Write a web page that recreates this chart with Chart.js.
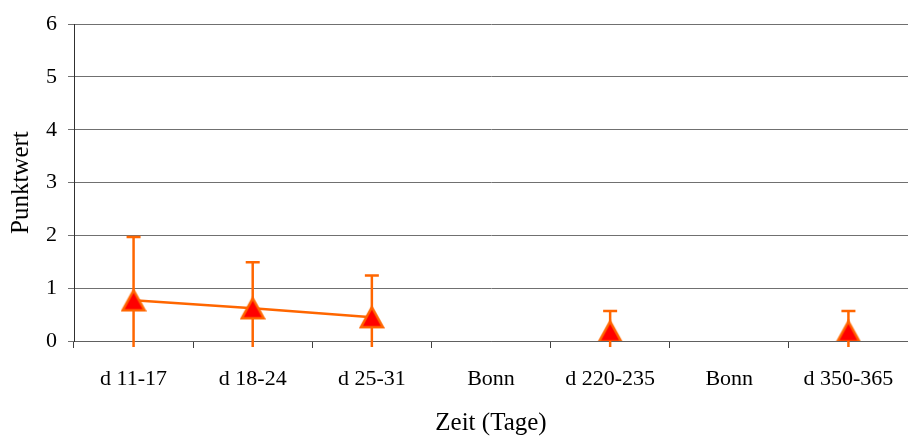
<!DOCTYPE html>
<html>
<head>
<meta charset="utf-8">
<script src="https://cdn.jsdelivr.net/npm/chart.js@4/dist/chart.umd.min.js"></script>
<style>
  html, body { margin: 0; padding: 0; background: #fff; }
  #wrap { width: 908px; height: 436px; }
</style>
</head>
<body>
<div id="wrap"><canvas id="chart"></canvas></div>
<script>
// data
var kategorien = ["d 11-17", "d 18-24", "d 25-31", "Bonn", "d 220-235", "Bonn", "d 350-365"];
var mittel     = [0.77, 0.62, 0.45, null, 0.18, null, 0.18];
var fehler     = [1.20, 0.87, 0.79, null, 0.39, null, 0.39];
var yTicks     = [0, 1, 2, 3, 4, 5, 6];

var orange = "#FF6600";
var schrift = "'Liberation Serif', 'Times New Roman', serif";

// triangle marker, centred on its bounding box like the original
var dreieck = document.createElement("canvas");
dreieck.width = 26; dreieck.height = 24;
(function() {
  var c = dreieck.getContext("2d");
  c.beginPath();
  c.moveTo(13, 2);
  c.lineTo(24, 22);
  c.lineTo(2, 22);
  c.closePath();
  c.fillStyle = "#FF0000";
  c.fill();
  c.lineWidth = 2.5;
  c.strokeStyle = orange;
  c.stroke();
})();

// error bars, drawn under the markers
var fehlerBalken = {
  id: "fehlerBalken",
  beforeDatasetsDraw: function(chart) {
    var ctx = chart.ctx;
    var xs = chart.scales.x, ys = chart.scales.y;
    var area = chart.chartArea;
    ctx.save();
    ctx.beginPath();
    ctx.rect(area.left, area.top - 5, area.right - area.left, area.bottom - area.top + 11);
    ctx.clip();
    ctx.strokeStyle = orange;
    ctx.lineWidth = 2.5;
    for (var i = 0; i < mittel.length; i++) {
      if (mittel[i] === null) continue;
      var x = xs.getPixelForValue(i);
      var oben = ys.getPixelForValue(mittel[i] + fehler[i]);
      var unten = ys.getPixelForValue(mittel[i] - fehler[i]);
      ctx.beginPath();
      ctx.moveTo(x, unten);
      ctx.lineTo(x, oben);
      ctx.moveTo(x - 7, oben);
      ctx.lineTo(x + 7, oben);
      ctx.stroke();
    }
    ctx.restore();
  }
};

new Chart(document.getElementById("chart"), {
  type: "line",
  data: {
    labels: kategorien,
    datasets: [{
      data: mittel,
      borderColor: orange,
      borderWidth: 2.5,
      backgroundColor: "#FF0000",
      pointStyle: dreieck,
      spanGaps: false,
      tension: 0
    }]
  },
  options: {
    responsive: true,
    maintainAspectRatio: false,
    animation: false,
    layout: { autoPadding: false, padding: { top: 13, right: 0, left: 0, bottom: 0 } },
    plugins: {
      legend: { display: false },
      tooltip: { enabled: false }
    },
    scales: {
      x: {
        type: "category",
        offset: true,
        afterFit: function(scale) {
          scale.height = 95;
          scale.paddingRight = 0;
        },
        grid: {
          offset: true,
          drawOnChartArea: false,
          drawTicks: true,
          tickLength: 7,
          color: "#404040",
          lineWidth: 1
        },
        border: { display: true, color: "#606060", width: 1 },
        ticks: {
          color: "#000",
          font: { family: schrift, size: 22, lineHeight: 1 },
          padding: 20,
          maxRotation: 0,
          autoSkip: false
        },
        title: {
          display: true,
          text: "Zeit (Tage)",
          color: "#000",
          font: { family: schrift, size: 25, lineHeight: 1 },
          padding: { top: 0, bottom: 0 }
        }
      },
      y: {
        min: 0,
        max: 6,
        afterBuildTicks: function(scale) {
          scale.ticks = yTicks.map(function(v) { return { value: v }; });
        },
        afterFit: function(scale) { scale.width = 74; },
        grid: {
          color: "#707070",
          lineWidth: 1,
          tickLength: 6
        },
        border: { display: true, color: "#303030", width: 1 },
        ticks: {
          color: "#000",
          font: { family: schrift, size: 22 },
          padding: 11
        },
        title: {
          display: true,
          text: "Punktwert",
          color: "#000",
          font: { family: schrift, size: 25, lineHeight: 1 },
          padding: { top: 9, bottom: 0 }
        }
      }
    }
  },
  plugins: [fehlerBalken]
});
</script>
</body>
</html>
